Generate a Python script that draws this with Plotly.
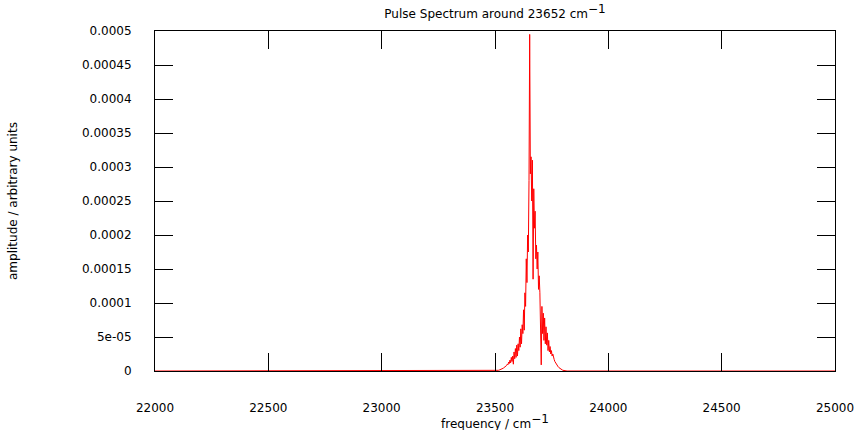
import plotly.graph_objects as go

# Frequency grid (cm^-1) and spectrum amplitude (arbitrary units)
freq = [22000,
        23500, 23503, 23506, 23509, 23512, 23515, 23518, 23521, 23524, 23527,
        23530, 23533, 23536, 23539, 23542, 23545, 23548, 23551, 23554, 23557,
        23560, 23563, 23566, 23569, 23572, 23575, 23578, 23581, 23584, 23587,
        23590, 23593, 23596, 23599, 23602, 23605, 23608, 23611, 23614, 23617,
        23620, 23623, 23626, 23629, 23632, 23635, 23638, 23641, 23644, 23647,
        23650, 23653, 23656, 23659, 23662, 23665, 23668, 23671, 23674, 23677,
        23680, 23683, 23686, 23689, 23692, 23695, 23698, 23701, 23704, 23707,
        23710, 23713, 23716, 23719, 23722, 23725, 23728, 23731, 23734, 23737,
        23740, 23743, 23746, 23749, 23752, 23755, 23758, 23761, 23764, 23767,
        23770, 23773, 23776, 23779, 23782, 23785, 23788, 23791, 23794, 23797,
        23800, 23803, 23806, 23809, 23812, 23815, 23818,
        25000]

amplitude = [0,
             0, 3e-7, 4e-7, 6e-7, 8e-7, 1.0e-6, 1.3e-6, 1.6e-6, 2.0e-6, 2.5e-6,
             2.8e-6, 3.5e-6, 4.0e-6, 4.8e-6, 5.5e-6, 6.0e-6, 7.5e-6, 8e-6, 1.0e-5, 9e-6,
             1.3e-5, 1.1e-5, 1.6e-5, 1.2e-5, 2.0e-5, 1.4e-5, 2.2e-5, 1.0e-5, 2.8e-5, 1.8e-5,
             3.3e-5, 2.0e-5, 3.8e-5, 2.2e-5, 4.0e-5, 3.0e-5, 5.0e-5, 3.5e-5, 6.2e-5, 4.0e-5,
             6.8e-5, 5.5e-5, 9.0e-5, 6.0e-5, 1.15e-4, 9.5e-5, 1.65e-4, 1.3e-4, 2.0e-4, 1.75e-4,
             2.8e-4, 4.95e-4, 2.9e-4, 3.15e-4, 2.5e-4, 3.1e-4, 1.35e-4, 2.68e-4, 2.1e-4, 2.35e-4,
             1.65e-4, 1.85e-4, 1.5e-4, 1.75e-4, 1.2e-4, 1.4e-4, 1.15e-4, 6.0e-5, 9e-6, 9.5e-5,
             5.5e-5, 8.5e-5, 4.5e-5, 7.8e-5, 4.0e-5, 6.5e-5, 3.8e-5, 5.6e-5, 3.0e-5, 4.5e-5,
             2.8e-5, 3.6e-5, 2.5e-5, 3.0e-5, 2.2e-5, 2.5e-5, 1.8e-5, 1.7e-5, 1.4e-5, 1.2e-5,
             1.0e-5, 9e-6, 7e-6, 6e-6, 5e-6, 4e-6, 3e-6, 2.5e-6, 2e-6, 1.5e-6,
             1e-6, 8e-7, 5e-7, 3e-7, 2e-7, 0, 0,
             0]

x_ticks = [22000, 22500, 23000, 23500, 24000, 24500, 25000]
x_tick_labels = ["22000", "22500", "23000", "23500", "24000", "24500", "25000"]
y_ticks = [0, 0.00005, 0.0001, 0.00015, 0.0002, 0.00025, 0.0003, 0.00035, 0.0004, 0.00045, 0.0005]
y_tick_labels = ["0", "5e-05", "0.0001", "0.00015", "0.0002", "0.00025",
                 "0.0003", "0.00035", "0.0004", "0.00045", "0.0005"]

FONT = "DejaVu Sans"
FS = 12
SUP = "<sup><span style='font-size:12px'>\u22121</span></sup>"

fig = go.Figure()
fig.add_trace(go.Scatter(x=freq, y=amplitude, mode="lines",
                         line=dict(color="#ff0000", width=1), showlegend=False))

axis_common = dict(showgrid=False, zeroline=False, showline=True, linecolor="black",
                   linewidth=1, mirror="allticks", ticks="inside", ticklen=18,
                   tickwidth=1, tickcolor="black", automargin=False,
                   tickfont=dict(family=FONT, size=FS, color="black"))

fig.update_layout(
    width=855, height=430,
    margin=dict(l=155, r=20, t=31, b=59),
    paper_bgcolor="white", plot_bgcolor="white",
    font=dict(family=FONT, size=FS, color="black"),
    title=dict(text="Pulse Spectrum around 23652 cm" + SUP,
               x=0.579, xanchor="center", y=0.968, yanchor="middle",
               font=dict(family=FONT, size=FS, color="black")),
    xaxis=dict(range=[22000, 25000], tickvals=x_ticks, ticktext=x_tick_labels,
               ticklabelstandoff=26, **axis_common),
    yaxis=dict(range=[0, 0.0005], tickvals=y_ticks, ticktext=y_tick_labels,
               ticklabelstandoff=20, **axis_common),
    annotations=[
        dict(text="frequency / cm" + SUP, xref="paper", yref="paper",
             x=0.5, y=-0.15, xanchor="center", yanchor="middle", showarrow=False,
             font=dict(family=FONT, size=FS, color="black")),
        dict(text="amplitude / arbitrary units", xref="paper", yref="paper",
             x=-0.2, y=0.5, xanchor="center", yanchor="middle", showarrow=False,
             textangle=-90, xshift=-6,
             font=dict(family=FONT, size=FS, color="black")),
    ],
)

fig.write_html("out.html")
